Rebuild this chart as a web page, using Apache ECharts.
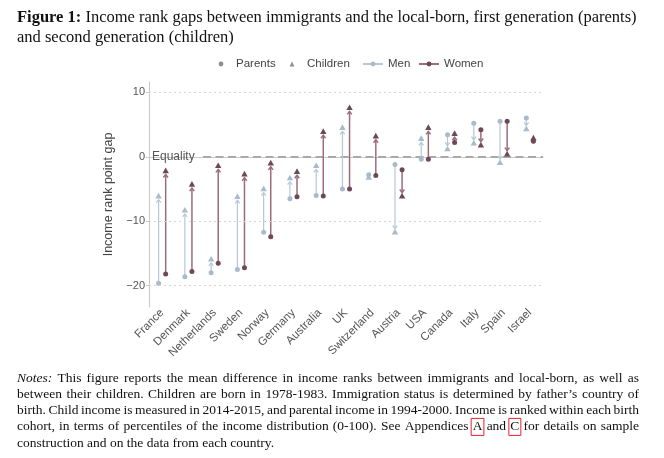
<!DOCTYPE html>
<html><head><meta charset="utf-8">
<script src="https://cdn.jsdelivr.net/npm/echarts@6/dist/echarts.min.js"></script>
<style>html,body{margin:0;padding:0;background:#fff}#c{width:664px;height:458px}</style>
</head><body><div id="c"></div>
<script>
// ---------- data ----------
const countries = ['France','Denmark','Netherlands','Sweden','Norway','Germany','Australia','UK','Switzerland','Austria','USA','Canada','Italy','Spain','Israel'];
const menParents    = [-19.6,-18.6,-18.0,-17.5,-11.7,-6.5,-6.0,-5.0,-2.8,-1.2,-0.4, 3.4, 5.2, 5.5, 6.0];
const menChildren   = [ -6.1, -8.3,-15.9, -6.2, -5.0,-3.3,-1.4, 4.5,-3.2,-11.7, 2.8, 1.2, 2.1,-0.9, 4.3];
const womenParents  = [-18.2,-17.8,-16.5,-17.2,-12.4,-6.2,-6.1,-5.0,-2.9,-2.0,-0.4, 2.2, 4.2, 5.5, 2.4];
const womenChildren = [ -2.2, -4.3, -1.4, -2.7, -1.0,-2.3, 3.9, 7.6, 3.2,-6.1, 4.5, 3.6, 1.8, 0.4, 2.9];
const yTicks = [-20, -10, 0, 10];
const gridValues = [-20, -10, 10];
const legendNames = ['Parents', 'Children', 'Men', 'Women'];
const titleLines = [
  'Income rank gaps between immigrants and the local-born, first generation (parents)',
  'and second generation (children)'
];
const noteLines = [
  'Notes: This figure reports the mean difference in income ranks between immigrants and local-born, as well as',
  'between their children. Children are born in 1978-1983. Immigration status is determined by father\u2019s country of',
  'birth. Child income is measured in 2014-2015, and parental income in 1994-2000. Income is ranked within each birth',
  'cohort, in terms of percentiles of the income distribution (0-100). See Appendices A and C for details on sample',
  'construction and on the data from each country.'
];

// ---------- styles ----------
const MEN_LINE = '#b6c7d5', MEN_MARK = '#a7bbcc';
const WOM_LINE = '#9a6d7a', WOM_MARK = '#6d4957';
const SANS = '"Liberation Sans", Arial, sans-serif';
const SERIF = '"Liberation Serif", "Times New Roman", serif';
const legendLeft = [205, 276, 357, 413];

function arrowSeries(name, parents, children, side, lineColor, markColor, lw) {
  return {
    type: 'custom', name: name + ' arrows', silent: true, z: 4,
    data: countries.map((c, i) => [i, parents[i], children[i]]),
    encode: { x: 0, y: [1, 2] },
    renderItem(params, api) {
      const i = api.value(0);
      const band = api.size([1, 0])[0];
      const p = api.coord([i, api.value(1)]);
      const c = api.coord([i, api.value(2)]);
      const x = p[0] + side * band * 0.135;
      const y1 = p[1], y2 = c[1];
      const dir = y2 < y1 ? -1 : 1;
      const tip = y2 - dir * 3.6;
      const els = [];
      if ((tip - y1) * dir > 0.5) {
        const ah = Math.min(3, Math.abs(tip - y1));
        els.push({ type: 'line', shape: { x1: x, y1: y1, x2: x, y2: tip }, style: { stroke: lineColor, lineWidth: lw } });
        els.push({ type: 'polyline', shape: { points: [[x - 2.3, tip - dir * ah], [x, tip], [x + 2.3, tip - dir * ah]] }, style: { stroke: lineColor, lineWidth: lw, fill: null } });
      }
      els.push({ type: 'circle', shape: { cx: x, cy: y1, r: 2.5 }, style: { fill: markColor } });
      els.push({ type: 'polygon', shape: { points: [[x, y2 - 3.4], [x - 3.2, y2 + 2.3], [x + 3.2, y2 + 2.3]] }, style: { fill: markColor } });
      return { type: 'group', children: els };
    }
  };
}

// ---------- notes text, justified ----------
const mctx = document.createElement('canvas').getContext('2d');
function tw(t, font) { mctx.font = font; return mctx.measureText(t).width; }
const graphics = [];
const NOTE_FS = 13.5, NOTE_X0 = 17, NOTE_X1 = 639, NOTE_Y0 = 371, NOTE_LH = 16.3;
noteLines.forEach((line, li) => {
  const words = line.split(' ');
  const fonts = words.map((w, wi) => (li === 0 && wi === 0 ? 'italic ' : '') + NOTE_FS + 'px ' + SERIF);
  let widths = words.map((w, wi) => tw(w, fonts[wi]));
  let sum = widths.reduce((a, b) => a + b, 0);
  const last = li === noteLines.length - 1;
  let gap = last ? tw(' ', fonts[0]) : (NOTE_X1 - NOTE_X0 - sum) / (words.length - 1);
  let scale = 1;
  const minGap = 2.6;
  if (!last && gap < minGap) {
    scale = (NOTE_X1 - NOTE_X0 - minGap * (words.length - 1)) / sum;
    widths = widths.map(w => w * scale);
    gap = minGap;
  }
  let x = NOTE_X0;
  const y = NOTE_Y0 + li * NOTE_LH;
  words.forEach((w, wi) => {
    graphics.push({ type: 'text', x: x, y: y, scaleX: scale, silent: true, style: { text: w, font: fonts[wi], fill: '#111', align: 'left', verticalAlign: 'top' } });
    if (li === 3 && (w === 'A' || w === 'C')) {
      graphics.push({ type: 'rect', x: x - 1.5, y: y - 1.5, silent: true, shape: { width: widths[wi] + 3, height: NOTE_FS + 3.5 }, style: { fill: null, stroke: '#e8202a', lineWidth: 1 } });
    }
    x += widths[wi] + gap;
  });
});
// title
graphics.push({
  type: 'text', x: 17, y: 8, silent: true,
  style: {
    text: '{b|Figure 1:} ' + titleLines[0] + '\n' + titleLines[1],
    font: '16.5px ' + SERIF, fill: '#111', lineHeight: 20, align: 'left', verticalAlign: 'top',
    rich: { b: { fontWeight: 'bold', fontSize: 16.5, fontFamily: SERIF, fill: '#111', lineHeight: 20 } }
  }
});

const chart = echarts.init(document.getElementById('c'));
chart.setOption({
  animation: false,
  backgroundColor: '#fff',
  grid: { left: 149, right: 121, top: 82, bottom: 151, containLabel: false },
  legend: legendNames.map((n, k) => ({
    top: 53, left: legendLeft[k], itemWidth: 20, itemHeight: 6, selectedMode: false,
    textStyle: { fontSize: 11.5, color: '#444', fontFamily: SANS },
    data: [k < 2 ? { name: n, lineStyle: { color: 'rgba(0,0,0,0)' } } : { name: n }]
  })),
  xAxis: {
    type: 'category', data: countries, boundaryGap: true,
    axisLine: { lineStyle: { color: '#c9c9c9', width: 1 } },
    axisTick: { alignWithLabel: true, length: 5, lineStyle: { color: '#c9c9c9' } },
    axisLabel: { rotate: 45, interval: 0, fontSize: 11.5, color: '#555', fontFamily: SANS, margin: 4 },
    splitLine: { show: false }
  },
  yAxis: {
    type: 'value', min: -23.3, max: 11.6,
    name: 'Income rank point gap', nameLocation: 'middle', nameGap: 30, nameRotate: 90,
    nameTextStyle: { fontSize: 12.5, color: '#444', fontFamily: SANS },
    axisLine: { show: true, lineStyle: { color: '#c9c9c9', width: 1 } },
    axisTick: { show: true, length: 3, customValues: yTicks, lineStyle: { color: '#c9c9c9' } },
    axisLabel: { customValues: yTicks, fontSize: 11, color: '#555', fontFamily: SANS, margin: 4,
      formatter: v => (v < 0 ? '\u2212' + Math.abs(v) : String(v)) },
    splitLine: { show: false }
  },
  series: [
    { name: 'Parents', type: 'line', data: [], symbol: 'circle', itemStyle: { color: '#8e8e8e' }, lineStyle: { color: 'rgba(0,0,0,0)' } },
    { name: 'Children', type: 'line', data: [], symbol: 'triangle', itemStyle: { color: '#8e8e8e' }, lineStyle: { color: 'rgba(0,0,0,0)' } },
    { name: 'Men', type: 'line', data: [], symbol: 'circle', itemStyle: { color: MEN_MARK }, lineStyle: { color: MEN_LINE, width: 1.3 } },
    { name: 'Women', type: 'line', data: [], symbol: 'circle', itemStyle: { color: WOM_MARK }, lineStyle: { color: WOM_LINE, width: 1.3 } },
    {
      type: 'custom', name: 'equality', silent: true, z: 2,
      data: [[0, 0]], encode: { x: 0, y: 1 },
      renderItem(params, api) {
        const y = api.coord([0, 0])[1];
        const cs = params.coordSys;
        return { type: 'group', children: [
          { type: 'text', style: { text: 'Equality', x: cs.x + 3, y: y, verticalAlign: 'middle', align: 'left', font: '12px ' + SANS, fill: '#555' } },
          { type: 'line', shape: { x1: cs.x + 54, y1: y, x2: cs.x + cs.width, y2: y }, style: { stroke: '#8c8c8c', lineWidth: 1.2, lineDash: [8, 4.5] } }
        ] };
      },
      markLine: {
        silent: true, symbol: 'none', label: { show: false },
        lineStyle: { color: '#d6d6d6', type: [2, 3], width: 1 },
        data: gridValues.map(v => ({ yAxis: v }))
      }
    },
    arrowSeries('Men', menParents, menChildren, -1, MEN_LINE, MEN_MARK, 1.2),
    arrowSeries('Women', womenParents, womenChildren, 1, WOM_LINE, WOM_MARK, 1.5)
  ],
  graphic: graphics
});
</script>
</body></html>
